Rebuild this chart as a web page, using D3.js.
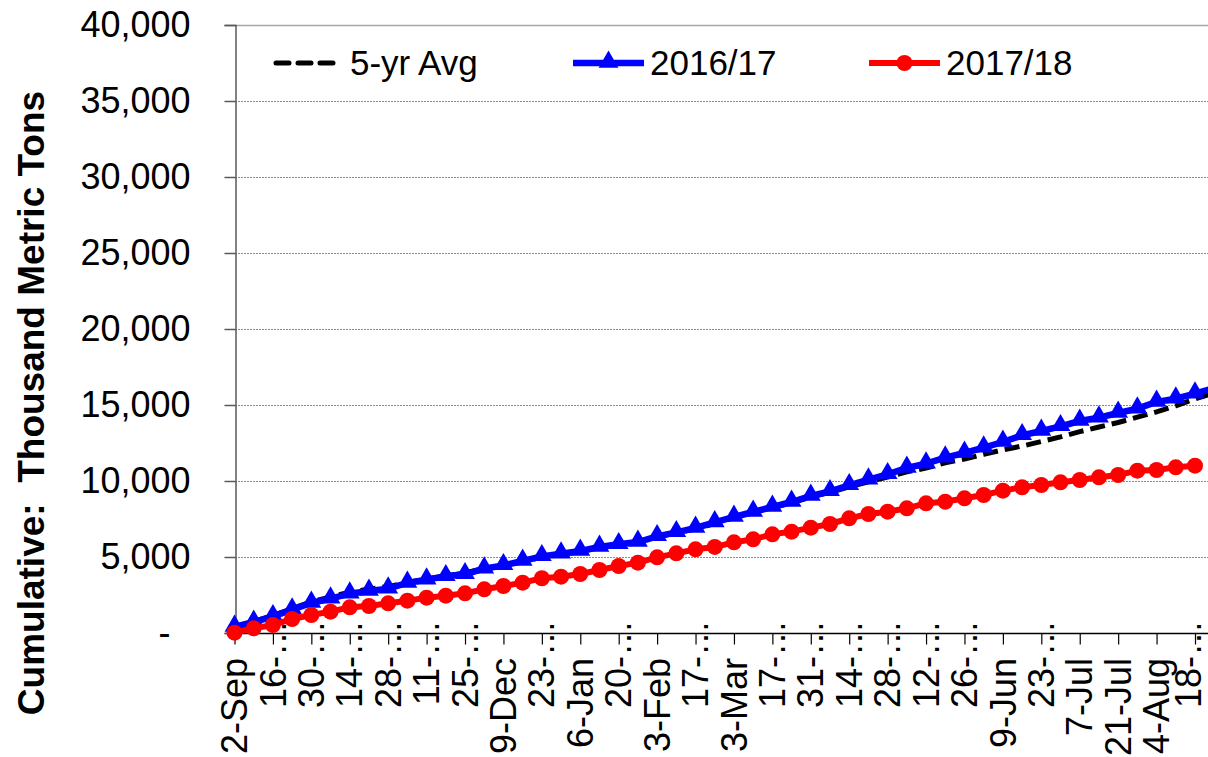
<!DOCTYPE html>
<html>
<head>
<meta charset="utf-8">
<script src="https://cdn.jsdelivr.net/npm/d3@7"></script>
<style>
  body { margin: 0; background: #fff; }
  svg { display: block; font-family: "Liberation Sans", Arial, sans-serif; }
</style>
</head>
<body>
<svg id="chart" width="1208" height="757"></svg>
<script>
// weekly categories, marketing year
var weeks = ["2-Sep","9-Sep","16-Sep","23-Sep","30-Sep","7-Oct","14-Oct","21-Oct","28-Oct",
  "4-Nov","11-Nov","18-Nov","25-Nov","2-Dec","9-Dec","16-Dec","23-Dec","30-Dec",
  "6-Jan","13-Jan","20-Jan","27-Jan","3-Feb","10-Feb","17-Feb","24-Feb",
  "3-Mar","10-Mar","17-Mar","24-Mar","31-Mar","7-Apr","14-Apr","21-Apr","28-Apr",
  "5-May","12-May","19-May","26-May","2-Jun","9-Jun","16-Jun","23-Jun","30-Jun",
  "7-Jul","14-Jul","21-Jul","28-Jul","4-Aug","11-Aug","18-Aug","25-Aug"];

// labels as shown on the axis (every other week, some cut off)
var tickWeeks = ["2-Sep","16-Sep","30-Sep","14-Oct","28-Oct","11-Nov","25-Nov","9-Dec","23-Dec",
  "6-Jan","20-Jan","3-Feb","17-Feb","3-Mar","17-Mar","31-Mar","14-Apr","28-Apr","12-May",
  "26-May","9-Jun","23-Jun","7-Jul","21-Jul","4-Aug","18-Aug"];
var tickText = ["2-Sep","16-…","30-…","14-…","28-…","11-…","25-…","9-Dec","23-…",
  "6-Jan","20-…","3-Feb","17-…","3-Mar","17-…","31-…","14-…","28-…","12-…",
  "26-…","9-Jun","23-…","7-Jul","21-Jul","4-Aug","18-…"];

var yTicks = [0, 5000, 10000, 15000, 20000, 25000, 30000, 35000, 40000];

var avg5yr = [300,750,1150,1600,2050,2380,2680,2900,3050,3330,3550,3750,3950,4250,4450,4700,
  4980,5180,5370,5600,5800,6000,6330,6580,6850,7200,7600,7930,8250,8570,8950,9250,9620,
  9950,10250,10600,10850,11200,11450,11750,12050,12300,12600,12900,13250,13550,13850,
  14200,14550,14950,15400,15800];

var y2016 = [400,724,1096,1535,1974,2259,2588,2763,2917,3290,3509,3728,3860,4232,4452,4737,
  5044,5219,5395,5658,5834,5987,6360,6623,6908,7270,7632,7961,8289,8618,9013,9320,9714,
  10087,10438,10855,11140,11535,11842,12193,12566,13005,13289,13596,13947,14167,14474,
  14758,15197,15417,15746,16120];

var y2017 = [20,310,526,921,1184,1403,1689,1776,1952,2127,2325,2456,2610,2875,3092,3311,3600,
  3706,3882,4145,4408,4627,4978,5241,5505,5660,5965,6163,6492,6667,6930,7171,7544,7829,
  7982,8202,8531,8640,8860,9079,9364,9584,9737,9914,10066,10241,10395,10680,10724,10900,11008];

var svg = d3.select("#chart");

var x = d3.scalePoint()
    .domain(weeks)
    .range([234.5, 1214.2]);

var y = d3.scaleLinear()
    .domain([0, 40000])
    .range([633, 25]);

// gridlines
svg.append("g")
  .selectAll("line")
  .data(yTicks.filter(function(d) { return d > 0; }))
  .enter().append("line")
    .attr("x1", 235)
    .attr("x2", 1208)
    .attr("y1", function(d) { return Math.round(y(d)) + 0.5; })
    .attr("y2", function(d) { return Math.round(y(d)) + 0.5; })
    .attr("stroke", function(d) { return d == 40000 ? "#a6a6a6" : "#8c8c8c"; })
    .attr("stroke-width", function(d) { return d == 40000 ? 1.5 : 1; })
    .attr("stroke-dasharray", function(d) { return d == 40000 ? null : "2,1"; });

// y axis
var yAxis = svg.append("g")
    .attr("transform", "translate(235.5,0)")
    .call(d3.axisLeft(y)
      .tickValues(yTicks)
      .tickSize(11)
      .tickPadding(34)
      .tickFormat(function(d) { return d == 0 ? "-" : d3.format(",")(d); }));
yAxis.select(".domain").attr("stroke", "#595959").attr("stroke-width", 1.5);
yAxis.selectAll(".tick line").attr("stroke", "#595959").attr("stroke-width", 1.5);
yAxis.selectAll(".tick text")
    .attr("font-size", 36)
    .attr("font-family", "Liberation Sans, Arial, sans-serif")
    .attr("fill", "#000")
    .attr("dx", function(d) { return d == 0 ? -20 : 0; });

// x axis
var xAxis = svg.append("g")
    .attr("transform", "translate(0,633.5)")
    .call(d3.axisBottom(x)
      .tickValues(tickWeeks)
      .tickSize(11)
      .tickFormat(""));
xAxis.select(".domain").attr("stroke", "#000").attr("stroke-width", 1.5).attr("d", "M234.5,0H1208");
xAxis.selectAll(".tick line").attr("stroke", "#000").attr("stroke-width", 1.2);

svg.append("g")
  .selectAll("text")
  .data(tickWeeks)
  .enter().append("text")
    .attr("transform", function(d, i) {
      var top = tickText[i].indexOf("…") >= 0 ? 620 : 658;
      return "translate(" + Math.min(x(d), 1188) + "," + top + ") rotate(-90)";
    })
    .attr("dy", "0.35em")
    .attr("text-anchor", "end")
    .attr("font-size", 36)
    .attr("fill", "#000")
    .text(function(d, i) { return tickText[i]; });

// y title
svg.append("text")
    .attr("transform", "translate(44,403) rotate(-90)")
    .attr("text-anchor", "middle")
    .attr("font-size", 37)
    .attr("font-weight", "bold")
    .attr("fill", "#000")
    .style("white-space", "pre")
    .text("Cumulative:  Thousand Metric Tons");

function lineFor(values) {
  return d3.line()
    .x(function(d, i) { return x(weeks[i]); })
    .y(function(d) { return y(d); })(values);
}

// 5-yr average (drawn first, sits under the blue)
svg.append("path")
    .attr("d", lineFor(avg5yr))
    .attr("fill", "none")
    .attr("stroke", "#000")
    .attr("stroke-width", 5)
    .attr("stroke-dasharray", "15,7");

// 2016/17
svg.append("path")
    .attr("d", lineFor(y2016))
    .attr("fill", "none")
    .attr("stroke", "#0000ff")
    .attr("stroke-width", 6.5);
var tri = d3.symbol().type(d3.symbolTriangle).size(170);
svg.append("g")
  .selectAll("path")
  .data(y2016)
  .enter().append("path")
    .attr("d", tri)
    .attr("transform", function(d, i) { return "translate(" + x(weeks[i]) + "," + (y(d) - 1) + ")"; })
    .attr("fill", "#0000ff");

// 2017/18
svg.append("path")
    .attr("d", lineFor(y2017))
    .attr("fill", "none")
    .attr("stroke", "#ff0000")
    .attr("stroke-width", 6);
svg.append("g")
  .selectAll("circle")
  .data(y2017)
  .enter().append("circle")
    .attr("cx", function(d, i) { return x(weeks[i]); })
    .attr("cy", function(d) { return y(d); })
    .attr("r", 8)
    .attr("fill", "#ff0000");

// legend
var legend = svg.append("g");
legend.append("line")
    .attr("x1", 276).attr("x2", 337).attr("y1", 63).attr("y2", 63)
    .attr("stroke", "#000").attr("stroke-width", 5)
    .attr("stroke-dasharray", "13,9").attr("stroke-linecap", "round");
legend.append("text").attr("x", 350).attr("y", 63).attr("dy", "0.35em")
    .attr("font-size", 35).text("5-yr Avg");

legend.append("line")
    .attr("x1", 573).attr("x2", 644).attr("y1", 63).attr("y2", 63)
    .attr("stroke", "#0000ff").attr("stroke-width", 6.5);
legend.append("path").attr("d", tri)
    .attr("transform", "translate(608.5,62)").attr("fill", "#0000ff");
legend.append("text").attr("x", 650).attr("y", 63).attr("dy", "0.35em")
    .attr("font-size", 35).text("2016/17");

legend.append("line")
    .attr("x1", 869).attr("x2", 940).attr("y1", 63).attr("y2", 63)
    .attr("stroke", "#ff0000").attr("stroke-width", 6);
legend.append("circle").attr("cx", 904.5).attr("cy", 63).attr("r", 8).attr("fill", "#ff0000");
legend.append("text").attr("x", 946).attr("y", 63).attr("dy", "0.35em")
    .attr("font-size", 35).text("2017/18");
</script>
</body>
</html>
